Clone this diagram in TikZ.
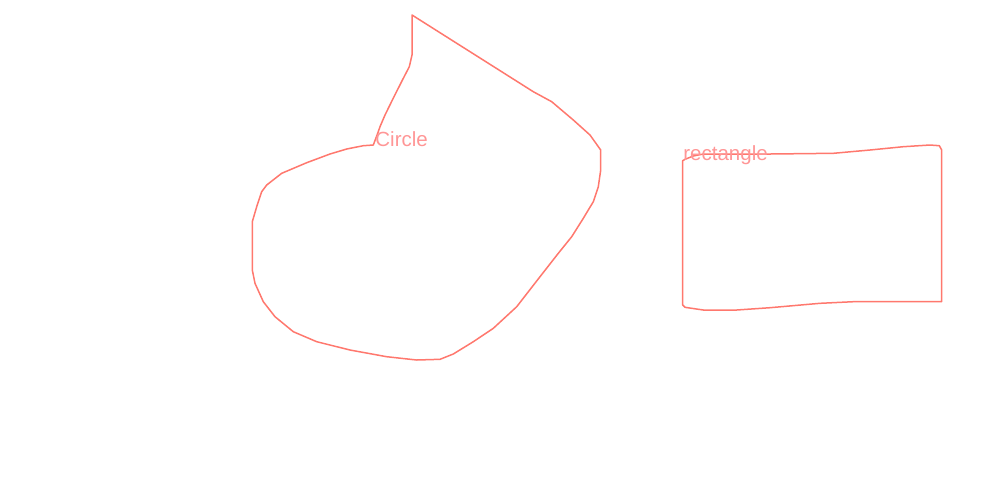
\documentclass[tikz,border=0pt]{standalone}
\usepackage{fontspec}
\setmainfont{Liberation Sans}
\definecolor{stroke}{RGB}{255,120,110}
\definecolor{label}{RGB}{255,150,150}
\begin{document}
\begin{tikzpicture}[x=0.5pt,y=-0.5pt,
  sketch/.style={draw=stroke,line width=0.75pt,line join=round,line cap=round},
  lbl/.style={anchor=base west,inner sep=0pt,text=label,font=\fontsize{10.25pt}{12pt}\selectfont}]
\useasboundingbox[fill=white] (0,0) rectangle (1000,500);
\draw[sketch] (412,15) -- (412,55) -- (409.3,66.7) -- (403.3,78.3) -- (394,96.7) -- (385,115) -- (380,126.7) -- (377.7,133.3) -- (373.3,145) -- (363.3,145.7) -- (346.7,149) -- (330,154) -- (306.7,162.7) -- (281.7,173.3) -- (266.7,185) -- (261.7,191.7) -- (256.7,206.7) -- (252.3,221.7) -- (252.3,270) -- (255,283.3) -- (263.3,301.7) -- (275,316.7) -- (293.3,331.7) -- (316.7,341.7) -- (350,350) -- (386.7,356.7) -- (416.7,360) -- (440,359.3) -- (453.3,354) -- (473.3,341.7) -- (493.3,328.3) -- (516.7,306.7) -- (540,276.7) -- (558.3,253.3) -- (571.7,236.7) -- (583.3,218.3) -- (593.3,201.7) -- (598.3,186.7) -- (600.7,170) -- (600.7,150) -- (590,135) -- (573.3,120) -- (551.7,101.7) -- (533.3,91.7) -- cycle;
\draw[sketch] (682.7,160.7) -- (682.7,305) -- (685,307.3) -- (703.3,310) -- (736.7,310) -- (770,307.7) -- (820,303.3) -- (853.3,301.7) -- (941.7,301.7) -- (941.7,150) -- (939.3,145.7) -- (930,145) -- (903.3,146.7) -- (870,150) -- (833.3,153.3) -- (770,154) -- (703.3,154) -- (693.3,156) -- (685,159.3) -- cycle;
\node[lbl] (circlelabel) at (375,146) {Circle};
\node[lbl] (rectlabel) at (683,160) {rectangle};
\end{tikzpicture}
\end{document}
